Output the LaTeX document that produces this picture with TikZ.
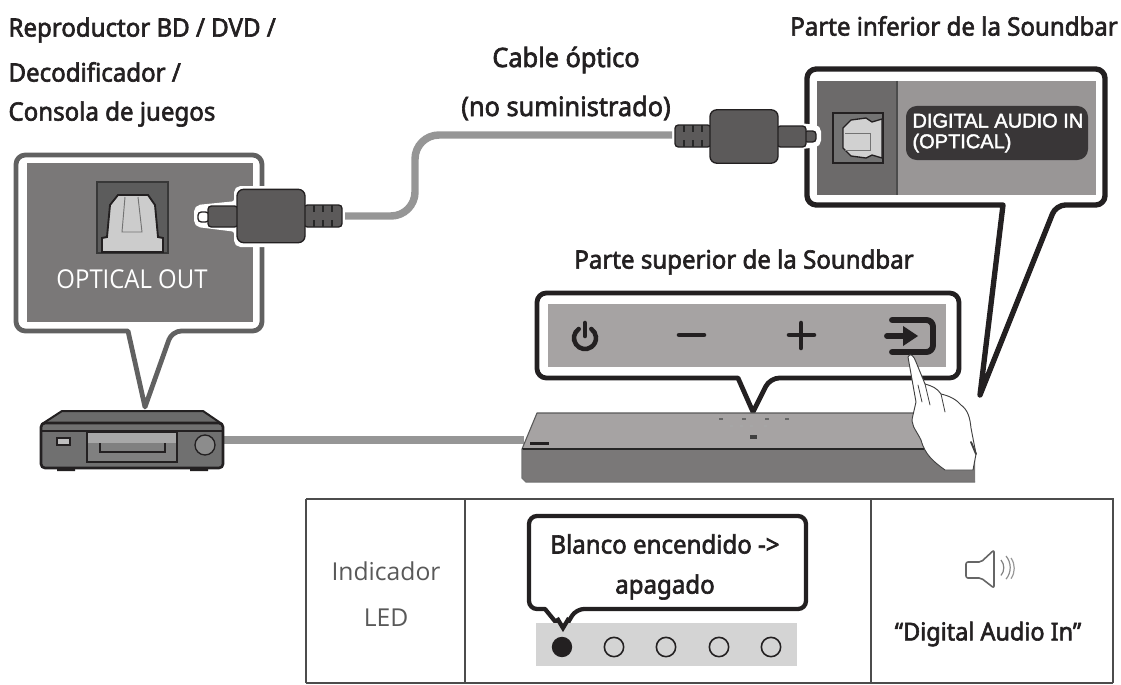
\documentclass[tikz,border=0pt]{standalone}
\usepackage{fontspec}
\setmainfont{Noto Sans}
\newfontfamily\labelfont[FakeBold=2.4,FakeStretch=0.95]{Noto Sans}
\newfontfamily\thinfont{Open Sans}
\newfontfamily\outfont[FakeStretch=0.92]{Open Sans}
\newfontfamily\panelfont[FakeBold=2]{Liberation Sans}
\definecolor{panelgray}{RGB}{122,120,120}
\definecolor{portgray}{RGB}{108,106,106}
\definecolor{topgray}{RGB}{166,163,163}
\definecolor{frontgray}{RGB}{122,120,120}
\definecolor{plugdark}{RGB}{92,90,90}
\definecolor{cablegray}{RGB}{150,150,150}
\definecolor{inkdark}{RGB}{35,32,33}
\tikzset{every picture/.style={line width=0.75pt},
  heading/.style={inner sep=0pt,text=inkdark,font=\labelfont\fontsize{19}{19}\selectfont},
  balloon/.style={draw=inkdark,line width=3.4pt,fill=white,rounded corners=7pt,line join=round},
  plugpart/.style={fill=plugdark,draw=inkdark,line width=1pt,rounded corners=2.5pt},
  halo/.style={draw=white,line width=4.5pt,fill=white,rounded corners=3pt},
  cableline/.style={draw=cablegray,line width=5.6pt},
  ledoff/.style={circle,draw=inkdark,line width=1.2pt,fill=none,minimum size=14.5pt,inner sep=0pt},
  ledon/.style={circle,draw=inkdark,fill=inkdark,minimum size=14.5pt,inner sep=0pt},
  icon/.style={draw=inkdark,line width=3.4pt,line cap=round},
  tablerule/.style={draw=black!70,line width=0.9pt},
  fingerline/.style={draw=black!75,line width=0.6pt,line cap=round}}
\begin{document}
\begin{tikzpicture}[x=0.75pt,y=0.75pt,yscale=-1,xscale=1]
\useasboundingbox (0,0) rectangle (1121,685);

% Left balloon
\draw [balloon,draw=black!62,line width=3.6pt] (16,155) -- (262,155) -- (262,331) -- (172,331) [sharp corners] -- (145,407) -- (128,331) [rounded corners=7pt] -- (16,331) -- cycle;
\fill [panelgray] (27,163) rectangle (253,322);
\draw [fill=black!64,draw=black!78,line width=1pt] (97,182) rectangle (168,253);
\draw [fill=black!20,draw=inkdark,line width=1.4pt] (102,252) -- (102,238) -- (107,237) -- (110,205) -- (118,195) -- (148,195) -- (155,205) -- (158,237) -- (163,238) -- (163,252) -- cycle;
\draw [draw=black!55,line width=0.7pt] (125,197) -- (122,232) -- (142,232) -- (138,197);
% Text Node
\node (optout) [inner sep=0pt,text=white,font=\outfont\fontsize{19.5}{19.5}\selectfont] at (132,279) {OPTICAL OUT};

% Right balloon
\draw [balloon,line width=4pt] (807,69) -- (1105,69) -- (1105,205) -- (1056,205) [sharp corners] -- (980,395) -- (1003,205) [rounded corners=7pt] -- (807,205) -- cycle;
\fill [portgray] (817,81) rectangle (897,195);
\fill [black!8!topgray] (897,81) rectangle (1096,195);
\draw [black!70,line width=1pt] (897,81) -- (897,195);
\draw [fill=black!55,draw=inkdark,line width=0.8pt] (833,113) rectangle (883,163);
\draw [fill=black!18,draw=inkdark,line width=1pt] (882,119) -- (872,122) -- (866,118) -- (851,120) -- (843,128) -- (843,148) -- (851,156) -- (866,158) -- (872,155) -- (882,158) -- cycle;
\draw [black!55,line width=0.7pt] (845,133) -- (870,133) -- (870,150) -- (845,150);
\fill [rounded corners=8pt,fill=inkdark!90!white] (906,106) rectangle (1088,160);
% Text Node
\node (digitalin) [inner sep=0pt,text=white,align=left,anchor=west,font=\panelfont\fontsize{15}{15.5}\selectfont] at (912,133) {DIGITAL AUDIO IN\\(OPTICAL)};

% Cable between plugs
\coordinate (cableL) at (345,216);
\coordinate (cableR) at (672,135);
\draw [cableline,rounded corners=18pt] (cableL) -- (415,216) -- (415,135) -- (cableR);

% Left plug
\draw [halo] (197,208) -- (237,204) -- (237,189) -- (305,189) -- (305,244) -- (237,244) -- (237,229) -- (197,224) -- cycle;
\draw [plugpart,fill=white] (198,212) rectangle (209,222);
\draw [plugpart] (208,206) rectangle (238,227);
\draw [plugpart] (304,205) rectangle (342,227);
\foreach \xx in {314,323,332} \draw [black!85,line width=1pt] (\xx,205) -- (\xx,212) (\xx,220) -- (\xx,227);
\node (plugL) [draw=inkdark,line width=1pt,fill=plugdark,rounded corners=5pt,minimum width=51pt,minimum height=40pt,inner sep=0pt] at (271,216) {};

% Right plug
\draw [halo] (818,128) -- (778,124) -- (778,109) -- (710,109) -- (710,164) -- (778,164) -- (778,149) -- (818,144) -- cycle;
\draw [plugpart] (804,131) rectangle (816,142);
\draw [plugpart] (777,126) rectangle (806,147);
\draw [plugpart] (675,125) rectangle (711,147);
\foreach \xx in {684,693,702} \draw [black!85,line width=1pt] (\xx,125) -- (\xx,132) (\xx,140) -- (\xx,147);
\node (plugR) [draw=inkdark,line width=1pt,fill=plugdark,rounded corners=5pt,minimum width=51pt,minimum height=40pt,inner sep=0pt] at (744,136.5) {};

% Player
\draw [cableline] (224,440) -- (524,440);
\fill [inkdark] (57,466) rectangle (75,471) (190,466) rectangle (208,471);
\draw [fill=black!58,draw=inkdark,line width=1.5pt,line join=round] (42,424) -- (62,411) -- (203,411) -- (222,424) -- cycle;
\draw [fill=black!56,draw=inkdark,line width=2pt,rounded corners=3pt] (41,423) rectangle (223,468);
\draw [inkdark,line width=1pt] (41,431) -- (223,431);
\draw [fill=black!50,draw=inkdark,line width=1pt] (87,432) rectangle (177,462);
\fill [black!34] (88,433) rectangle (176,443);
\draw [inkdark,line width=1pt] (100,443) -- (100,452) -- (165,452) -- (165,443);
\draw [fill=black!25,draw=inkdark,line width=0.8pt] (57,438) rectangle (70,445);
\draw [fill=black!45,draw=inkdark,line width=1pt] (205,445) circle [radius=10];

% Middle balloon
\draw [balloon,line width=3.6pt] (537,293) -- (959,293) -- (959,378) -- (770,378) [sharp corners] -- (753,412) -- (738,378) [rounded corners=7pt] -- (537,378) -- cycle;
\fill [topgray] (548,304) rectangle (946,367);

% Soundbar
\fill [frontgray] (522,448) -- (975,448) -- (975,482) -- (526,482) -- (522,478) -- cycle;
\draw [fill=topgray,draw=black!65,line width=0.8pt,line join=round] (522,449) -- (537,413) -- (925,413) -- (975,449) -- cycle;
\draw [black!85,line width=1.2pt] (522,449) -- (975,449);
\draw [black!55,line width=0.8pt] (522,449) -- (522,478) -- (526,482) -- (975,482);
\fill [inkdark] (530,442) rectangle (549,445);
\fill [black!75] (750,435) rectangle (757,439);
\foreach \xx in {719,742,765,785} \fill [black!60] (\xx,418) rectangle +(4,2);
\foreach \xx in {730,740,750,764} \fill [black!35] (\xx,425) rectangle +(3,2);

% Top panel keys
\draw [icon] (585,323) -- (585,336);
\draw [icon] (578.7,329) arc [start angle=-125,end angle=-415,radius=11];
\draw [icon] (679,335) -- (704,335);
\draw [icon] (801,323) -- (801,348) (789,335) -- (814,335);
\draw [icon,line width=4.4pt,line join=round,rounded corners=5pt] (892,320) -- (933,320) -- (933,352) -- (892,352);
\draw [icon,line width=4.4pt] (887,336) -- (906,336);
\fill [inkdark] (903,326) -- (918,336) -- (903,346) -- cycle;

% Hand
\draw [fill=white,draw=black!75,line width=0.7pt,line join=round] (908,357) .. controls (910,352) and (914,356) .. (916,362) -- (925,384) .. controls (932,386) and (937,388) .. (941,394) .. controls (950,396) and (957,400) .. (961,405) .. controls (968,410) and (970,418) .. (971,428) -- (976,454) -- (973,470) -- (945,470) .. controls (934,462) and (925,455) .. (921,440) .. controls (915,428) and (910,425) .. (913,415) -- (916,402) -- (908,357) -- cycle;
\draw [fingerline] (925,384) -- (930,405) (941,394) -- (945,412) (918,385) -- (922,402);
\draw [fingerline,line width=1.4pt] (971,442) -- (976,454);

% Table
\draw [tablerule] (306,499) -- (1113,499) -- (1113,683) (306,683) -- (306,499) (465,499) -- (465,683) (871,499) -- (871,683) (306,683) -- (1113,683);

% Text Node
\node (indicador) [inner sep=0pt,text=black!65,font=\thinfont\fontsize{18.5}{18.5}\selectfont] at (386,571) {Indicador};
\node (led) [inner sep=0pt,text=black!65,font=\thinfont\fontsize{18.5}{18.5}\selectfont] at (386,618) {LED};

% Table balloon
\draw [balloon,line width=3.2pt,rounded corners=6pt] (529,516) -- (806,516) -- (806,609) -- (576,609) [sharp corners] -- (563,631) -- (545,609) [rounded corners=6pt] -- (529,609) -- cycle;
\fill [black!17] (536,623) rectangle (797,666);
\draw [inkdark,line width=3.2pt] (557,618) -- (563,628) -- (569,618);
\node (ledA) [ledon] at (562,647) {};
\node (ledB) [ledoff] at (614,647) {};
\node (ledC) [ledoff] at (666,647) {};
\node (ledD) [ledoff] at (719,647) {};
\node (ledE) [ledoff] at (771,647) {};
\node (bubbleA) [heading] at (665,544) {Blanco encendido ->};
\node (bubbleB) [heading] at (665,587) {apagado};

% Speaker
\draw [black!60,line width=1.2pt,line join=round,rounded corners=1.5pt] (981,562) -- (994,550) -- (994,588) -- (981,578) -- (966,578) -- (966,562) -- cycle;
\draw [black!50,line width=0.9pt] (1001,560) arc [start angle=-40,end angle=40,radius=12];
\draw [black!45,line width=0.9pt] (1006,556) arc [start angle=-40,end angle=40,radius=18];
\draw [black!40,line width=0.9pt] (1011,558) arc [start angle=-35,end angle=35,radius=18];
\node (voice) [heading,font=\labelfont\fontsize{18.5}{18.5}\selectfont] at (988,634) {“Digital Audio In”};

% Text Node
\node (source) [heading,anchor=west,align=left] at (8,30) {Reproductor BD / DVD /};
\node (sourceB) [heading,anchor=west] at (8,72) {Decodificador /};
\node (sourceC) [heading,anchor=west] at (8,114) {Consola de juegos};
\node (cabletxt) [heading,font=\labelfont\fontsize{20}{20}\selectfont] at (566,60) {Cable óptico};
\node (cabletxtB) [heading,font=\labelfont\fontsize{20}{20}\selectfont] at (566,108) {(no suministrado)};
\node (bottomtxt) [heading] at (954,26) {Parte inferior de la Soundbar};
\node (toptxt) [heading] at (744,262) {Parte superior de la Soundbar};

\end{tikzpicture}
\end{document}
